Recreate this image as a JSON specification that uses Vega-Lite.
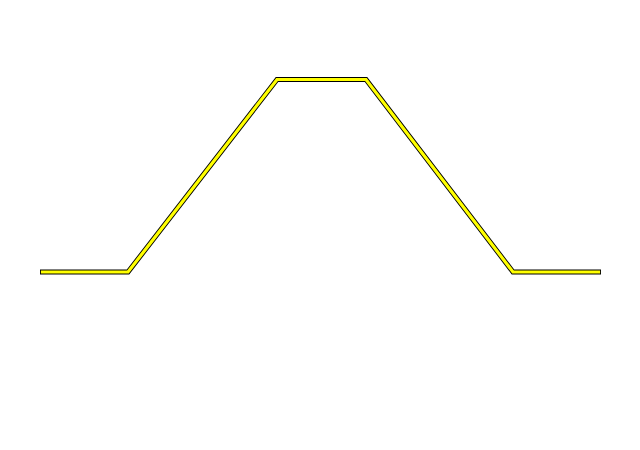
{
  "$schema": "https://vega.github.io/schema/vega-lite/v6.json",
  "autosize": {"type": "fit", "contains": "padding"},
  "width": 640,
  "height": 450,
  "padding": 0,
  "background": "white",
  "config": {"view": {"stroke": null}},
  "data": {"values": [
    {"x": 2.5, "y": 0},
    {"x": 88, "y": 0},
    {"x": 237, "y": 192.5},
    {"x": 326, "y": 192.5},
    {"x": 473, "y": 0},
    {"x": 558.5, "y": 0}
  ]},
  "encoding": {
    "x": {"field": "x", "type": "quantitative", "scale": {"domain": [-40, 600], "nice": false, "zero": false}, "axis": null},
    "y": {"field": "y", "type": "quantitative", "scale": {"domain": [-178, 272], "nice": false, "zero": false}, "axis": null}
  },
  "layer": [
    {"mark": {"type": "line", "color": "black", "strokeWidth": 5, "strokeJoin": "miter", "strokeCap": "square"}},
    {"mark": {"type": "line", "color": "#ffff00", "strokeWidth": 3.2, "strokeJoin": "miter", "strokeCap": "square"}}
  ]
}
